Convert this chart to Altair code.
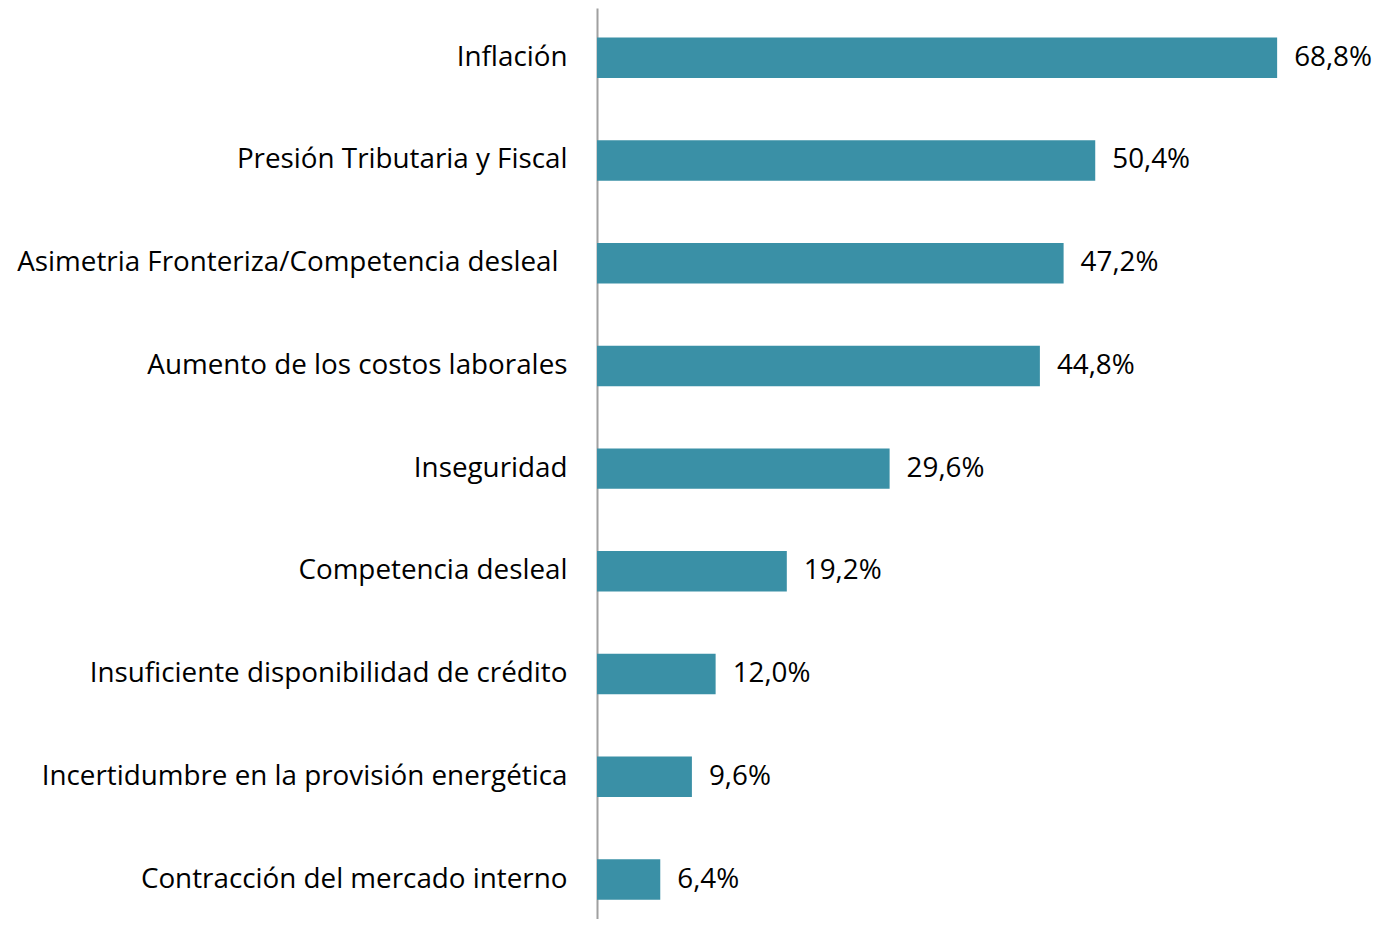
import altair as alt
import pandas as pd

categories = [
    "Inflación",
    "Presión Tributaria y Fiscal",
    "Asimetria Fronteriza/Competencia desleal",
    "Aumento de los costos laborales",
    "Inseguridad",
    "Competencia desleal",
    "Insuficiente disponibilidad de crédito",
    "Incertidumbre en la provisión energética",
    "Contracción del mercado interno",
]
values = [68.8, 50.4, 47.2, 44.8, 29.6, 19.2, 12.0, 9.6, 6.4]

df = pd.DataFrame({"cat": categories, "val": values})
df["label"] = [f"{v:.1f}".replace(".", ",") + "%" for v in values]

FONT = "Open Sans"
COLOR = "#3A90A6"
FS = 27.8

y_enc = alt.Y(
    "cat:N",
    sort=categories,
    scale=alt.Scale(paddingInner=0.606, paddingOuter=0.2373, align=0.605),
    axis=alt.Axis(
        title=None,
        ticks=False,
        labelPadding={
            "condition": {"test": "datum.value == 'Asimetria Fronteriza/Competencia desleal'", "value": 39},
            "value": 30,
        },
        labelFontSize=FS,
        labelFont=FONT,
        labelColor="#000000",
        labelLimit=700,
        domainColor="#A0A0A0",
        domainWidth=2,
        grid=False,
    ),
)
x_enc = alt.X(
    "val:Q",
    scale=alt.Scale(domain=[0, 70], nice=False, zero=True),
    axis=None,
)

bars = alt.Chart(df).mark_bar(color=COLOR).encode(x=x_enc, y=y_enc)
text = alt.Chart(df).mark_text(
    align="left", baseline="middle", dx=17, fontSize=FS, font=FONT, color="#000000"
).encode(x=x_enc, y=y_enc, text="label:N")

chart = (
    alt.layer(bars, text)
    .properties(
        width=692,
        height=911,
        background="white",
        autosize=alt.AutoSizeParams(type="none"),
        padding={"left": 589, "top": 0, "right": 90, "bottom": 0},
    )
    .configure_view(strokeWidth=0, stroke=None)
)

chart.save("out.html", embed_options={"renderer": "svg", "actions": False})
